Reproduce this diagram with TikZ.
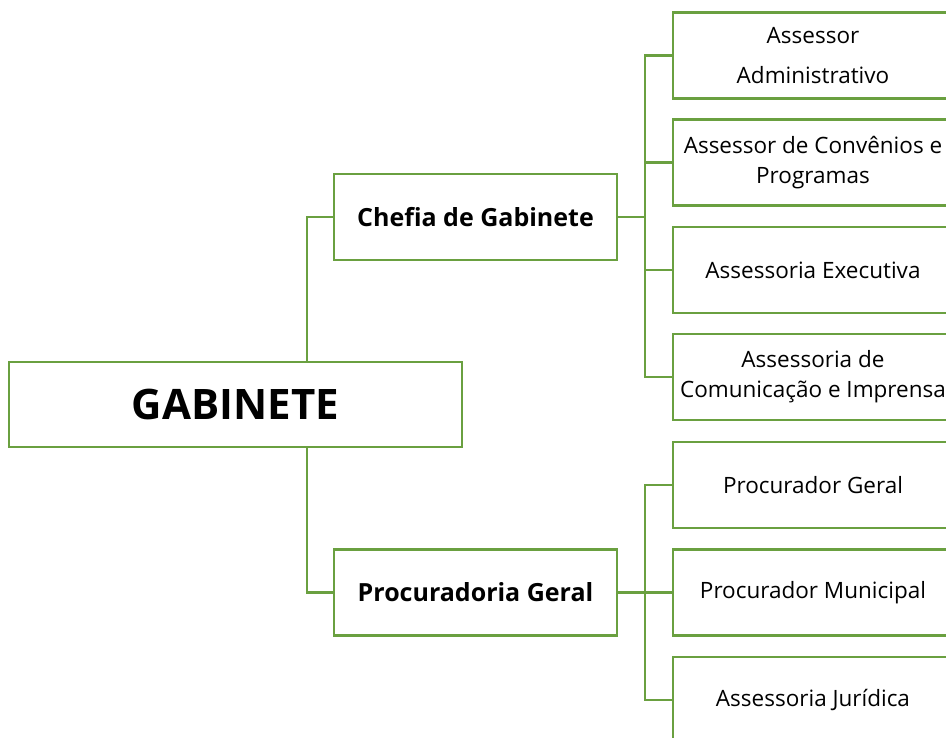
\documentclass[tikz,border=0pt]{standalone}
\usepackage{fontspec}
\setmainfont{Open Sans}
\definecolor{orggreen}{RGB}{106,160,64}
\begin{document}
\begin{tikzpicture}[x=1pt,y=-1pt,
    box/.style={draw=orggreen, line width=2.8pt, fill=white, align=center, inner sep=0pt},
    unit/.style={box, minimum width=280pt, minimum height=86pt, font=\fontsize{22.5}{30}\selectfont},
    head/.style={box, minimum width=283pt, minimum height=86pt, font=\fontsize{25}{30}\selectfont\bfseries},
    link/.style={draw=orggreen, line width=2.8pt}]
    \useasboundingbox (0,0) rectangle (946,737);

    \node[box, minimum width=453pt, minimum height=85pt, font=\fontsize{42}{48}\selectfont\bfseries] (gab) at (235.5,404.5) {GABINETE};
    \node[head] (chefia) at (475.5,217) {Chefia de Gabinete};
    \node[head] (procur) at (475.5,592.5) {Procuradoria Geral};

    \node[unit] (aadm) at (813,55.5) {Assessor\\[10pt]Administrativo};
    \node[unit] (aconv) at (813,162.5) {Assessor de Convênios e\\Programas};
    \node[unit] (aexec) at (813,270) {Assessoria Executiva};
    \node[unit] (acom) at (813,377) {Assessoria de\\Comunicação e Imprensa};
    \node[unit] (pger) at (813,485) {Procurador Geral};
    \node[unit] (pmun) at (813,592.5) {Procurador Municipal};
    \node[unit] (ajur) at (813,700) {Assessoria Jurídica};

    \coordinate (spine) at (307,404.5);
    \coordinate (cbus) at (645,217);
    \coordinate (pbus) at (645,592.5);

    \draw[link] (chefia.west) -| (spine |- gab.north);
    \draw[link] (procur.west) -| (spine |- gab.south);

    \draw[link] (chefia.east) -- (cbus);
    \draw[link] (cbus) |- (aadm.west);
    \draw[link] (cbus) |- (aconv.west);
    \draw[link] (cbus) |- (aexec.west);
    \draw[link] (cbus) |- (acom.west);

    \draw[link] (procur.east) -- (pbus);
    \draw[link] (pbus) |- (pger.west);
    \draw[link] (pbus) |- (pmun.west);
    \draw[link] (pbus) |- (ajur.west);
\end{tikzpicture}
\end{document}
